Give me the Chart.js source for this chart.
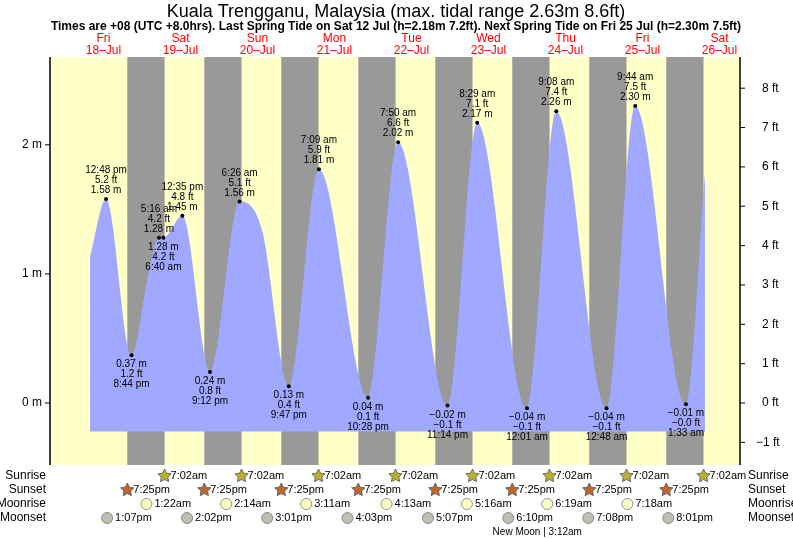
<!DOCTYPE html>
<html><head><meta charset="utf-8">
<script src="https://cdn.jsdelivr.net/npm/chart.js@4"></script>
<style>body{margin:0;background:#fff}#wrap{width:793px;height:539px}</style>
</head><body><div id="wrap"><canvas id="c"></canvas></div>
<script>
// hours counted from Fri 18-Jul 00:00 (UTC+8)
const dayNames = ['Fri','Sat','Sun','Mon','Tue','Wed','Thu','Fri','Sat']
const dayDates = ['18\u2013Jul','19\u2013Jul','20\u2013Jul','21\u2013Jul','22\u2013Jul','23\u2013Jul','24\u2013Jul','25\u2013Jul','26\u2013Jul']
const tideHours  = [7.8, 12.8, 20.73, 26.0, 29.27, 30.67, 36.58, 45.2, 54.43, 61.4, 69.78, 79.15, 94.47, 103.83, 119.23, 128.48, 144.02, 153.13, 168.8, 177.73, 193.55, 199.5]
const tideLevels = [1.13, 1.58, 0.37, 1.0, 1.28, 1.28, 1.45, 0.24, 1.56, 1.34, 0.13, 1.81, 0.04, 2.02, -0.02, 2.17, -0.04, 2.26, -0.04, 2.30, -0.01, 1.78]
const extHours  = [12.8, 20.73, 29.27, 30.67, 36.58, 45.2, 54.43, 69.78, 79.15, 94.47, 103.83, 119.23, 128.48, 144.02, 153.13, 168.8, 177.73, 193.55]
const extLevels = [1.58, 0.37, 1.28, 1.28, 1.45, 0.24, 1.56, 0.13, 1.81, 0.04, 2.02, -0.02, 2.17, -0.04, 2.26, -0.04, 2.30, -0.01]
const extTimes  = ['12:48 pm','8:44 pm','5:16 am','6:40 am','12:35 pm','9:12 pm','6:26 am','9:47 pm','7:09 am','10:28 pm','7:50 am','11:14 pm','8:29 am','12:01 am','9:08 am','12:48 am','9:44 am','1:33 am']
const extAbove  = [1,0,1,0,1,0,1,0,1,0,1,0,1,0,1,0,1,0]
const sunriseHours = [31.03, 55.03, 79.03, 103.03, 127.03, 151.03, 175.03, 199.03]
const sunsetHours  = [19.42, 43.42, 67.42, 91.42, 115.42, 139.42, 163.42, 187.42]
const moonriseHours = [25.37, 50.23, 75.18, 100.22, 125.27, 150.32, 175.3]
const moonriseLabels = ['1:22am','2:14am','3:11am','4:13am','5:16am','6:19am','7:18am']
const moonsetHours = [13.12, 38.03, 63.02, 88.05, 113.12, 138.17, 163.13, 188.02]
const moonsetLabels = ['1:07pm','2:02pm','3:01pm','4:03pm','5:07pm','6:10pm','7:08pm','8:01pm']
const metreTicks = [0, 1, 2]
const feetTicks = [-1, 0, 1, 2, 3, 4, 5, 6, 7, 8]
const baseLevel = -0.22

const FONT = '"Liberation Sans", Arial, sans-serif'
const minus = s => String(s).replace(/-/g, '\u2212')

function star(ctx, x, y, r, col) {
  ctx.beginPath()
  for (let i = 0; i < 10; i++) {
    let a = -Math.PI/2 + i*Math.PI/5, rr = i%2 ? r*0.5 : r
    ctx.lineTo(x + rr*Math.cos(a), y + rr*Math.sin(a))
  }
  ctx.closePath(); ctx.fillStyle = col; ctx.fill(); ctx.strokeStyle = '#555'; ctx.lineWidth = 0.8; ctx.stroke()
}
function disc(ctx, x, y, col) {
  ctx.beginPath(); ctx.arc(x, y, 5.5, 0, 2*Math.PI); ctx.fillStyle = col; ctx.fill()
  ctx.strokeStyle = '#777'; ctx.lineWidth = 0.8; ctx.stroke()
}

const deco = {
  id: 'deco',
  beforeDatasetsDraw(chart) {
    const {ctx, chartArea: a, scales: {x}} = chart
    ctx.save()
    ctx.fillStyle = '#ffffc8'; ctx.fillRect(a.left, a.top, a.right-a.left, a.bottom-a.top)
    ctx.fillStyle = '#999999'
    sunsetHours.forEach((s, i) => {
      let x1 = x.getPixelForValue(s), x2 = Math.min(x.getPixelForValue(sunriseHours[i]), a.right)
      ctx.fillRect(x1, a.top, x2-x1, a.bottom-a.top)
    })
    ctx.restore()
  },
  afterDatasetsDraw(chart) {
    const {ctx, chartArea: a, scales: {x, y}} = chart
    ctx.save()
    ctx.textAlign = 'center'; ctx.fillStyle = '#000'
    ctx.font = '18px ' + FONT; ctx.fillText('Kuala Trengganu, Malaysia (max. tidal range 2.63m 8.6ft)', 396, 17)
    ctx.font = 'bold 12px ' + FONT
    ctx.fillText('Times are +08 (UTC +8.0hrs). Last Spring Tide on Sat 12 Jul (h=2.18m 7.2ft). Next Spring Tide on Fri 25 Jul (h=2.30m 7.5ft)', 396, 30)
    ctx.fillStyle = '#ff0000'; ctx.font = '12px ' + FONT
    dayNames.forEach((d, i) => {
      let px = x.getPixelForValue(12 + 24*i)
      ctx.fillText(d, px, 42); ctx.fillText(dayDates[i], px, 54)
    })
    // axes
    ctx.strokeStyle = '#000'; ctx.lineWidth = 1.5
    ctx.beginPath(); ctx.moveTo(a.left, a.top); ctx.lineTo(a.left, a.bottom)
    ctx.moveTo(a.right, a.top); ctx.lineTo(a.right, a.bottom); ctx.stroke()
    ctx.lineWidth = 1; ctx.fillStyle = '#000'; ctx.font = '12px ' + FONT
    ctx.textAlign = 'right'; ctx.textBaseline = 'middle'
    metreTicks.forEach(m => {
      let py = y.getPixelForValue(m)
      ctx.beginPath(); ctx.moveTo(a.left-5, py); ctx.lineTo(a.left, py); ctx.stroke()
      ctx.fillText(m + ' m', a.left-8, py)
    })
    ctx.textAlign = 'left'
    feetTicks.forEach(f => {
      let py = y.getPixelForValue(f/3.2808)
      ctx.beginPath(); ctx.moveTo(a.right, py); ctx.lineTo(a.right+5, py); ctx.stroke()
      ctx.fillText(minus(f) + ' ft', a.right+22 - (f < 0 ? 6 : 0), py)
    })
    // extreme labels
    ctx.textAlign = 'center'; ctx.textBaseline = 'alphabetic'; ctx.font = '10px ' + FONT
    extHours.forEach((h, i) => {
      let px = x.getPixelForValue(h), py = y.getPixelForValue(extLevels[i])
      ctx.beginPath(); ctx.arc(px, py, 2, 0, 2*Math.PI); ctx.fillStyle = '#000'; ctx.fill()
      let m = minus(extLevels[i].toFixed(2)) + ' m', ft = minus((extLevels[i]*3.2808).toFixed(1)) + ' ft'
      if (ft === '\u22120.0 ft') ft = '\u22120.0 ft'
      let lines = extAbove[i] ? [extTimes[i], ft, m] : [m, ft, extTimes[i]]
      lines.forEach((t, k) => {
        let ty = extAbove[i] ? py - 6 - (2-k)*10 : py + 12 + k*10
        ctx.fillText(t, px, ty)
      })
    })
    // sun & moon rows
    ctx.font = '12px ' + FONT; ctx.textAlign = 'right'; ctx.fillStyle = '#000'; ctx.textBaseline = 'middle'
    const rows = [['Sunrise', 476], ['Sunset', 490], ['Moonrise', 504], ['Moonset', 518]]
    rows.forEach(r => { ctx.fillText(r[0], 46, r[1]); ctx.textAlign = 'left'; ctx.fillText(r[0], 748, r[1]); ctx.textAlign = 'right' })
    ctx.textAlign = 'left'; ctx.font = '11px ' + FONT
    sunriseHours.forEach(h => { let px = x.getPixelForValue(h); star(ctx, px, 476, 7, '#b8b030'); ctx.fillStyle = '#000'; ctx.fillText('7:02am', px+6, 476) })
    sunsetHours.forEach(h => { let px = x.getPixelForValue(h); star(ctx, px, 490, 7, '#b86830'); ctx.fillStyle = '#000'; ctx.fillText('7:25pm', px+6, 490) })
    moonriseHours.forEach((h, i) => { let px = x.getPixelForValue(h); disc(ctx, px, 504, '#ffffc8'); ctx.fillStyle = '#000'; ctx.fillText(moonriseLabels[i], px+8, 504) })
    moonsetHours.forEach((h, i) => { let px = x.getPixelForValue(h); disc(ctx, px, 518, '#c0c0b0'); ctx.fillStyle = '#000'; ctx.fillText(moonsetLabels[i], px+8, 518) })
    ctx.font = '10px ' + FONT; ctx.textAlign = 'center'
    ctx.fillText('New Moon | 3:12am', x.getPixelForValue(147.2), 532)
    ctx.restore()
  }
}

new Chart(document.getElementById('c'), {
  type: 'line',
  data: {
    datasets: [{
      data: tideHours.map((h, i) => ({x: h, y: tideLevels[i]})),
      fill: {value: baseLevel},
      backgroundColor: '#a0a8ff',
      borderWidth: 0,
      pointRadius: 0,
      cubicInterpolationMode: 'monotone'
    }]
  },
  options: {
    animation: false, responsive: true, maintainAspectRatio: false,
    layout: {padding: {left: 50, right: 53, top: 57, bottom: 74}},
    plugins: {legend: {display: false}, tooltip: {enabled: false}},
    scales: {
      x: {type: 'linear', min: -4.68, max: 210.4, display: false},
      y: {min: -0.48, max: 2.68, display: false}
    }
  },
  plugins: [deco]
})
</script></body></html>
